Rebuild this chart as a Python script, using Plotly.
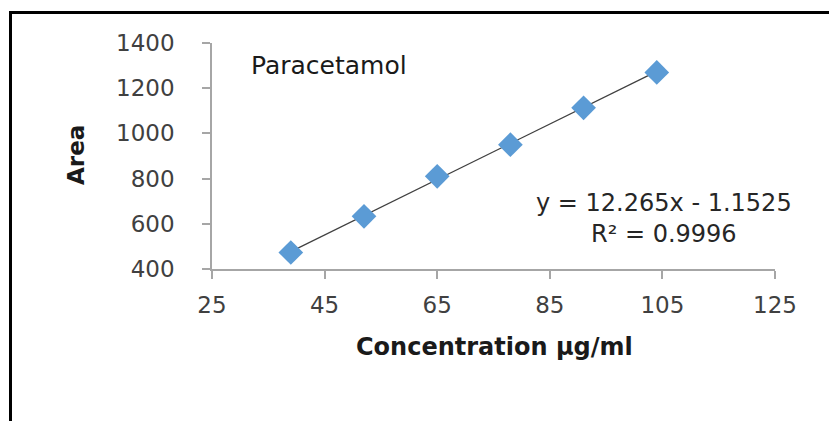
import plotly.graph_objects as go

# Data
concentration = [39, 52, 65, 78, 91, 104]
area = [473, 633, 810, 950, 1113, 1270]
slope = 12.265
intercept = -1.1525
x_ticks = [25, 45, 65, 85, 105, 125]
y_ticks = [400, 600, 800, 1000, 1200, 1400]
title_text = "Paracetamol"
eq_text = "y = 12.265x - 1.1525<br>R² = 0.9996"

x_range = [25, 125]
y_range = [400, 1400]

W, H = 829, 421
L, R, T, B = 212, W - 775, 43, H - 269
pw, ph = W - L - R, H - T - B


def px(x):
    return (x - L) / pw


def py(y):
    return (H - B - y) / ph


fit_x = [min(concentration), max(concentration)]
fit_y = [slope * v + intercept for v in fit_x]

font_family = "DejaVu Sans"
tick_col = "#404040"
axis_col = "#a6a6a6"

fig = go.Figure()
fig.add_trace(go.Scatter(x=fit_x, y=fit_y, mode="lines",
                         line=dict(color="#404040", width=1.3),
                         hoverinfo="skip", showlegend=False))
fig.add_trace(go.Scatter(x=concentration, y=area, mode="markers",
                         marker=dict(symbol="diamond", size=19, color="#5b9bd5",
                                     line=dict(width=0)),
                         showlegend=False))

fig.update_layout(
    width=W, height=H,
    margin=dict(l=L, r=R, t=T, b=B, pad=0),
    paper_bgcolor="white", plot_bgcolor="white",
    font=dict(family=font_family, color=tick_col),
    xaxis=dict(range=x_range, tickvals=x_ticks, ticks="outside", ticklen=8,
               tickcolor=axis_col, tickwidth=1.5, showline=True, linecolor=axis_col,
               linewidth=1.5, showgrid=False, zeroline=False,
               tickfont=dict(size=23, color=tick_col), ticklabelstandoff=7),
    yaxis=dict(range=y_range, tickvals=y_ticks, ticks="outside", ticklen=8,
               tickcolor=axis_col, tickwidth=1.5, showline=True, linecolor=axis_col,
               linewidth=1.5, showgrid=False, zeroline=False,
               tickfont=dict(size=23, color=tick_col), ticklabelstandoff=23),
    annotations=[
        dict(text=title_text, xref="paper", yref="paper", x=px(249), y=py(65),
             xanchor="left", yanchor="middle", showarrow=False,
             font=dict(size=25, color="#1a1a1a", family=font_family)),
        dict(text=eq_text, xref="paper", yref="paper", x=px(664), y=py(218),
             xanchor="center", yanchor="middle", showarrow=False, align="center",
             font=dict(size=24, color="#262626", family=font_family)),
        dict(text="<b>Concentration μg/ml</b>", xref="paper", yref="paper",
             x=px(495), y=py(347), xanchor="center", yanchor="middle",
             showarrow=False, font=dict(size=24, color="#1a1a1a", family=font_family)),
        dict(text="<b>Area</b>", xref="paper", yref="paper", x=px(76), y=py(155),
             xanchor="center", yanchor="middle", textangle=-90,
             showarrow=False, font=dict(size=23, color="#1a1a1a", family=font_family)),
    ],
    shapes=[
        dict(type="line", xref="paper", yref="paper", x0=px(10.5), x1=px(10.5),
             y0=py(12), y1=py(425), line=dict(color="black", width=3)),
        dict(type="line", xref="paper", yref="paper", x0=px(9), x1=px(832),
             y0=py(12.5), y1=py(12.5), line=dict(color="black", width=3)),
    ],
)

fig.write_html("out.html")
